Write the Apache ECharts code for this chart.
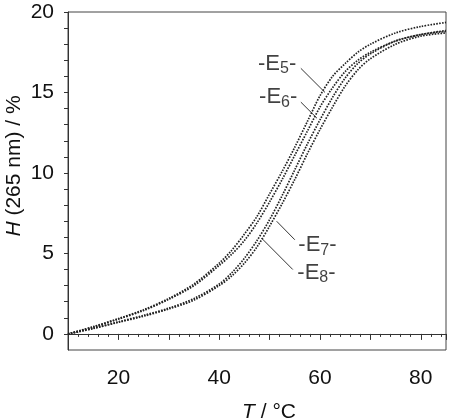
<!DOCTYPE html>
<html>
<head>
<meta charset="utf-8">
<script src="https://cdn.jsdelivr.net/npm/echarts@6/dist/echarts.min.js"></script>
<style>
  html, body { margin: 0; padding: 0; background: #fff; }
  #chart { width: 455px; height: 420px; }
</style>
</head>
<body>
<div id="chart"></div>
<script>
const temps = [10, 15, 20, 25, 30, 35, 40, 42.5, 45, 47.5, 50, 52.5, 55, 57.5, 60, 62.5, 65, 67.5, 70, 75, 80, 85];

// hyperchromicity H(265 nm) / %
const e5 = [0, 0.45, 0.95, 1.5, 2.2, 3.1, 4.4, 5.2, 6.2, 7.3, 8.7, 10.1, 11.6, 13.2, 14.8, 16.0, 16.8, 17.5, 18.0, 18.7, 19.1, 19.35];
const e6 = [0, 0.42, 0.92, 1.45, 2.15, 3.0, 4.25, 4.95, 5.8, 6.9, 8.2, 9.6, 11.1, 12.6, 14.1, 15.3, 16.3, 17.0, 17.5, 18.2, 18.6, 18.85];
const e7 = [0, 0.35, 0.75, 1.15, 1.6, 2.2, 3.1, 3.8, 4.7, 5.8, 7.1, 8.6, 10.2, 11.8, 13.3, 14.7, 15.9, 16.8, 17.4, 18.2, 18.6, 18.8];
const e8 = [0, 0.33, 0.72, 1.1, 1.55, 2.1, 3.0, 3.6, 4.4, 5.4, 6.7, 8.1, 9.6, 11.2, 12.7, 14.1, 15.4, 16.4, 17.1, 18.0, 18.5, 18.7];

// curve labels ("-E5-" etc.) and their leader lines, in data units
const labelSubs = ["5", "6", "7", "8"];
const labelT = [51.5, 51.7, 59.5, 59.3];
const labelH = [16.8, 14.7, 5.5, 3.8];
const leaderFrom = [[56.2, 16.5], [56.2, 14.4], [55.0, 5.85], [54.6, 4.0]];
const leaderTo = [[61.0, 15.0], [59.4, 13.4], [51.4, 7.0], [48.4, 5.95]];

const xLabels = [20, 40, 60, 80];
const yLabels = [0, 5, 10, 15, 20];
const yTicks = [];
for (let v = 0; v <= 20; v++) yTicks.push(v);

const font = "Liberation Sans";
const ink = "#111";

const chart = echarts.init(document.getElementById("chart"));

function curve(values) {
  return {
    type: "line",
    data: temps.map((t, i) => [t, values[i]]),
    smooth: 0.3,
    showSymbol: false,
    silent: true,
    lineStyle: { color: "#222", width: 1.7, type: [1.6, 1.3] },
  };
}

chart.setOption({
  animation: false,
  textStyle: { fontFamily: font },
  grid: {
    left: 68,
    right: 9,
    top: 12,
    bottom: 70,
    show: true,
    borderColor: "#444",
    borderWidth: 1,
  },
  xAxis: {
    type: "value",
    min: 10,
    max: 85,
    interval: 10,
    axisLine: { lineStyle: { color: "#333", width: 1 } },
    axisTick: { length: 6, lineStyle: { color: "#333" } },
    minorTick: { show: true, splitNumber: 5, length: 3, lineStyle: { color: "#333" } },
    axisLabel: {
      customValues: xLabels,
      margin: 18,
      fontSize: 21,
      color: ink,
      fontFamily: font,
    },
    splitLine: { show: false },
  },
  yAxis: {
    type: "value",
    min: -1,
    max: 20,
    axisLine: { show: true, lineStyle: { color: "#333", width: 1 } },
    axisTick: { show: true, customValues: yTicks, length: 4, lineStyle: { color: "#333" } },
    axisLabel: {
      customValues: yLabels,
      margin: 14,
      fontSize: 21,
      color: ink,
      fontFamily: font,
    },
    splitLine: { show: false },
  },
  graphic: [
    {
      type: "text",
      x: 14,
      y: 166,
      rotation: Math.PI / 2,
      style: {
        text: "{i|H} (265 nm) / %",
        align: "center",
        verticalAlign: "middle",
        fontSize: 21,
        fontFamily: font,
        fill: ink,
        rich: { i: { fontStyle: "italic", fontSize: 21, fontFamily: font } },
      },
    },
    {
      type: "text",
      x: 269,
      y: 412,
      style: {
        text: "{i|T} / °C",
        align: "center",
        verticalAlign: "middle",
        fontSize: 21,
        fontFamily: font,
        fill: ink,
        rich: { i: { fontStyle: "italic", fontSize: 21, fontFamily: font } },
      },
    },
  ],
  series: [
    curve(e5),
    curve(e6),
    curve(e7),
    curve(e8),
    {
      type: "scatter",
      symbolSize: 0,
      silent: true,
      data: labelSubs.map((s, i) => ({ value: [labelT[i], labelH[i]], sub: s })),
      label: {
        show: true,
        position: "inside",
        formatter: (p) => `{d|-E}{s|${p.data.sub}}{d|-}`,
        rich: {
          d: { fontSize: 22, lineHeight: 26, color: ink, fontFamily: font, verticalAlign: "middle" },
          s: { fontSize: 16, lineHeight: 16, color: ink, fontFamily: font, verticalAlign: "bottom" },
        },
      },
      markLine: {
        silent: true,
        symbol: "none",
        label: { show: false },
        lineStyle: { color: "#333", width: 1, type: "solid" },
        data: leaderFrom.map((a, i) => [{ coord: a }, { coord: leaderTo[i] }]),
      },
    },
  ],
});
</script>
</body>
</html>
